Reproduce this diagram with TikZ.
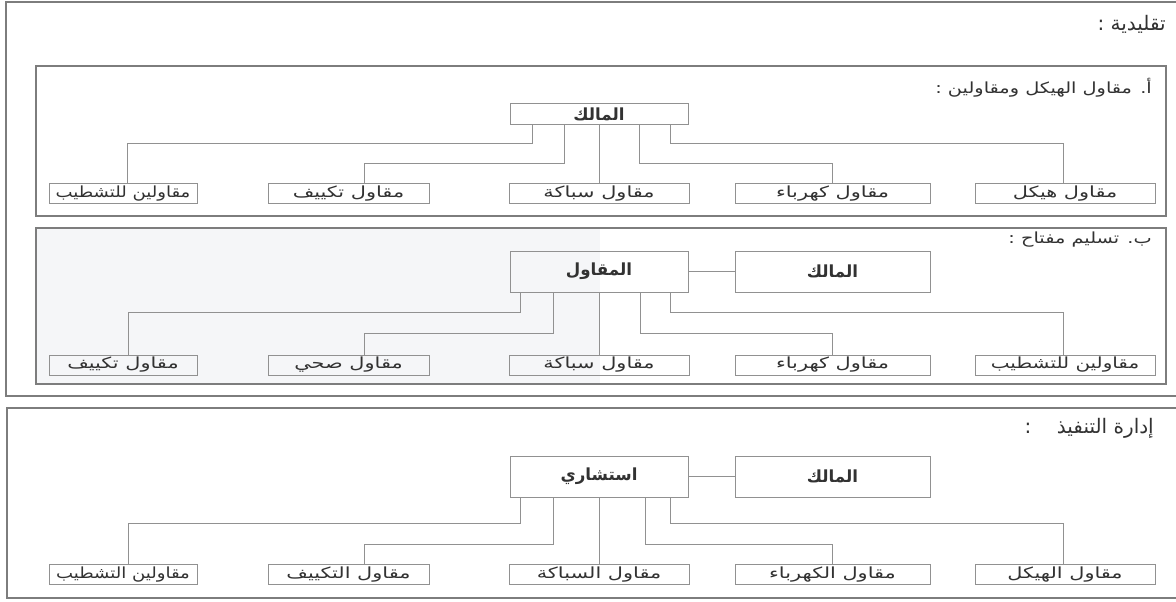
\documentclass[tikz,border=0pt]{standalone}
\usepackage{graphicx}
\usepackage{fontspec}
\TeXXeTstate=1
\newfontfamily\arabicfont[Script=Arabic]{DejaVu Sans}
\newcommand{\artxt}[1]{\beginR #1\endR}
\newcommand{\lftxt}[2][1.36]{\scalebox{#1}[1]{\beginR #2\endR}}
\newcommand{\subtxt}[1]{\scalebox{1.26}[1]{\beginR #1\endR}}
\definecolor{ln}{RGB}{145,145,145}
\definecolor{fr}{RGB}{125,125,125}
\definecolor{tx}{RGB}{50,50,50}
\definecolor{scan}{RGB}{245,246,248}
\begin{document}
\begin{tikzpicture}[x=0.75pt,y=-0.75pt,
  conn/.style={draw=ln, line width=0.6pt},
  frame/.style={draw=fr, line width=0.8pt},
  leaf/.style={draw=ln, line width=0.6pt, inner sep=0pt, minimum height=15pt, text=tx,
    font=\arabicfont\fontsize{11.5}{13}\selectfont},
  rootbox/.style={draw=ln, line width=0.6pt, inner sep=0pt, text=tx,
    font=\arabicfont\bfseries\fontsize{12.5}{14}\selectfont},
  bigtitle/.style={anchor=east, inner sep=0pt, text=tx, font=\arabicfont\fontsize{15}{17}\selectfont},
  subtitle/.style={anchor=east, inner sep=0pt, text=tx, font=\arabicfont\fontsize{11.5}{13}\selectfont}]
\useasboundingbox (0,0) rectangle (1176,601);
\fill[white] (0,0) rectangle (1176,601);
% frames
\fill[scan] (36,228) rectangle (600,384);
\draw[frame] (1176,2) -- (6,2) -- (6,396) -- (1176,396);
\draw[frame] (1176,408) -- (7,408) -- (7,598) -- (1176,598);
\draw[frame] (36,66) rectangle (1166,216);
\draw[frame] (36,228) rectangle (1166,384);
% titles
\node[bigtitle] (t1) at (1166,24) {\artxt{تقليدية :}};
\node[subtitle] (tA) at (1152,88) {\subtxt{أ. مقاول الهيكل ومقاولين :}};
\node[subtitle] (tB) at (1152,240) {\subtxt{ب. تسليم مفتاح :}};
\node[bigtitle] (t3) at (1154,428) {\artxt{إدارة التنفيذ \ \ \ :}};

% ---------- Section A
\node[rootbox, minimum width=133.5pt, minimum height=16pt] (rA) at (599,114) {\artxt{المالك}};
\node[leaf, minimum width=111pt] (a1) at (123,193.5) {\lftxt[1.18]{مقاولين للتشطيب}};
\node[leaf, minimum width=120.75pt] (a2) at (348.5,193.5) {\lftxt{مقاول تكييف}};
\node[leaf, minimum width=135pt] (a3) at (599,193.5) {\lftxt{مقاول سباكة}};
\node[leaf, minimum width=146.25pt] (a4) at (832.5,193.5) {\lftxt{مقاول كهرباء}};
\node[leaf, minimum width=135pt] (a5) at (1065,193.5) {\lftxt{مقاول هيكل}};
\coordinate (ha1) at (532,143);
\coordinate (ha2) at (564,163);
\coordinate (ha4) at (639,163);
\coordinate (ha5) at (670,143);
\draw[conn] (rA.south -| ha1) -- (ha1) -| ([xshift=3pt]a1.north);
\draw[conn] (rA.south -| ha2) -- (ha2) -| ([xshift=12pt]a2.north);
\draw[conn] (rA.south) -- (a3.north);
\draw[conn] (rA.south -| ha4) -- (ha4) -| (a4.north);
\draw[conn] (rA.south -| ha5) -- (ha5) -| ([xshift=-1.5pt]a5.north);

% ---------- Section B
\node[rootbox, minimum width=133.5pt, minimum height=30.75pt] (rB) at (599,271.5) {\artxt{المقاول}};
\node[rootbox, minimum width=146.25pt, minimum height=30.75pt] (oB) at (832.5,271.5) {\artxt{المالك}};
\draw[conn] (rB.east) -- (oB.west);
\node[leaf, minimum width=111pt] (b1) at (123,365) {\lftxt{مقاول تكييف}};
\node[leaf, minimum width=120.75pt] (b2) at (348.5,365) {\lftxt{مقاول صحي}};
\node[leaf, minimum width=135pt] (b3) at (599,365) {\lftxt{مقاول سباكة}};
\node[leaf, minimum width=146.25pt] (b4) at (832.5,365) {\lftxt{مقاول كهرباء}};
\node[leaf, minimum width=135pt] (b5) at (1065,365) {\lftxt[1.3]{مقاولين للتشطيب}};
\coordinate (hb1) at (520,312);
\coordinate (hb2) at (553,333);
\coordinate (hb4) at (640,333);
\coordinate (hb5) at (670,312);
\draw[conn] (rB.south -| hb1) -- (hb1) -| ([xshift=4pt]b1.north);
\draw[conn] (rB.south -| hb2) -- (hb2) -| ([xshift=12pt]b2.north);
\draw[conn] (rB.south) -- (b3.north);
\draw[conn] (rB.south -| hb4) -- (hb4) -| (b4.north);
\draw[conn] (rB.south -| hb5) -- (hb5) -| ([xshift=-1.5pt]b5.north);

% ---------- Section C
\node[rootbox, minimum width=133.5pt, minimum height=30.75pt] (rC) at (599,476.5) {\artxt{استشاري}};
\node[rootbox, minimum width=146.25pt, minimum height=30.75pt] (oC) at (832.5,476.5) {\artxt{المالك}};
\draw[conn] (rC.east) -- (oC.west);
\node[leaf, minimum width=111pt] (c1) at (123,574.5) {\lftxt[1.18]{مقاولين التشطيب}};
\node[leaf, minimum width=120.75pt] (c2) at (348.5,574.5) {\lftxt{مقاول التكييف}};
\node[leaf, minimum width=135pt] (c3) at (599,574.5) {\lftxt{مقاول السباكة}};
\node[leaf, minimum width=146.25pt] (c4) at (832.5,574.5) {\lftxt{مقاول الكهرباء}};
\node[leaf, minimum width=135pt] (c5) at (1065,574.5) {\lftxt{مقاول الهيكل}};
\coordinate (hc1) at (520,523);
\coordinate (hc2) at (553,544);
\coordinate (hc4) at (645,544);
\coordinate (hc5) at (670,523);
\draw[conn] (rC.south -| hc1) -- (hc1) -| ([xshift=4pt]c1.north);
\draw[conn] (rC.south -| hc2) -- (hc2) -| ([xshift=12pt]c2.north);
\draw[conn] (rC.south) -- (c3.north);
\draw[conn] (rC.south -| hc4) -- (hc4) -| (c4.north);
\draw[conn] (rC.south -| hc5) -- (hc5) -| ([xshift=-1.5pt]c5.north);
\end{tikzpicture}
\end{document}
